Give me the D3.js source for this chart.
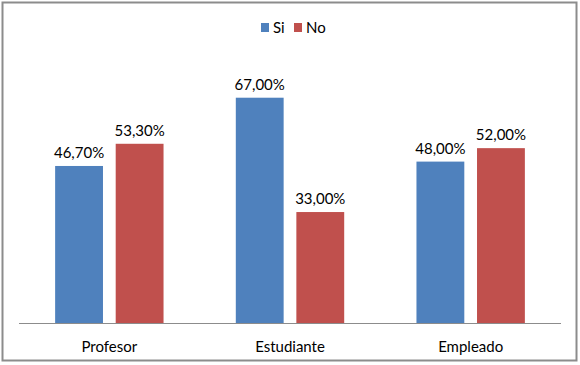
<!DOCTYPE html>
<html>
<head>
<meta charset="utf-8">
<script src="https://cdn.jsdelivr.net/npm/d3@7"></script>
<style>
  body { margin: 0; background: #fff; }
  text { font-family: Lato, "Open Sans", sans-serif; fill: #000; }
</style>
</head>
<body>
<div id="chart"></div>
<script>
// Chart data
let categories = ["Profesor", "Estudiante", "Empleado"];
let seriesNames = ["Si", "No"];
let siValues = [0.467, 0.67, 0.48];
let noValues = [0.533, 0.33, 0.52];
let seriesColors = ["#4F81BD", "#C0504D"];

let width = 580, height = 365;
let plot = {left: 19, right: 561, top: 54, bottom: 323};

let svg = d3.select("#chart")
    .append("svg")
    .attr("width", width)
    .attr("height", height);

// Outer frame
svg.append("rect")
    .attr("x", 2.5).attr("y", 2.5)
    .attr("width", 574).attr("height", 358)
    .attr("fill", "#fff")
    .attr("stroke", "#8c8c8c")
    .attr("stroke-width", 2);

// Scales
let x0 = d3.scaleBand()
    .domain(categories)
    .range([plot.left, plot.right])
    .paddingInner(0.4)
    .paddingOuter(0.2);

let x1 = d3.scaleBand()
    .domain(seriesNames)
    .range([0, x0.bandwidth()])
    .paddingInner(0.21);

let y = d3.scaleLinear()
    .domain([0, 0.8])
    .range([plot.bottom, plot.top]);

let color = d3.scaleOrdinal().domain(seriesNames).range(seriesColors);

// Build rows from the arrays
let rows = categories.map(function(c, i) {
    return {cat: c, values: [
        {name: "Si", value: siValues[i]},
        {name: "No", value: noValues[i]}
    ]};
});

let fmt = function(v) {
    return d3.format(".2f")(v * 100).replace(".", ",") + "%";
};

let groups = svg.selectAll("g.group")
    .data(rows)
    .enter()
    .append("g")
    .attr("class", "group")
    .attr("transform", function(d) { return `translate(${x0(d.cat)},0)`; });

groups.selectAll("rect")
    .data(function(d) { return d.values; })
    .enter()
    .append("rect")
    .attr("x", function(d) { return x1(d.name); })
    .attr("y", function(d) { return y(d.value); })
    .attr("width", x1.bandwidth())
    .attr("height", function(d) { return y(0) - y(d.value); })
    .attr("fill", function(d) { return color(d.name); });

// Value labels above bars
groups.selectAll("text")
    .data(function(d) { return d.values; })
    .enter()
    .append("text")
    .attr("x", function(d) { return x1(d.name) + x1.bandwidth() / 2; })
    .attr("y", function(d) { return y(d.value) - 8; })
    .attr("text-anchor", "middle")
    .style("font-size", "15px")
    .text(function(d) { return fmt(d.value); });

// X axis
let xAxis = svg.append("g")
    .attr("transform", `translate(0,${plot.bottom})`)
    .call(d3.axisBottom(x0).tickSize(0).tickPadding(18).tickSizeOuter(0));
xAxis.select(".domain").attr("stroke", "#8c8c8c").attr("d", `M${plot.left},0.5H${plot.right}`);
xAxis.selectAll("text")
    .style("font-size", "15px")
    .style("font-family", "Lato, sans-serif")
    .attr("fill", "#000");

// Legend
let legend = svg.append("g").attr("transform", "translate(261,23)");
let legendX = [0, 33];
seriesNames.forEach(function(s, i) {
    let item = legend.append("g").attr("transform", `translate(${legendX[i]},0)`);
    item.append("rect")
        .attr("width", 8).attr("height", 9)
        .attr("fill", color(s));
    item.append("text")
        .attr("x", 12).attr("y", 9.5)
        .style("font-size", "15px")
        .text(s);
});
</script>
</body>
</html>
